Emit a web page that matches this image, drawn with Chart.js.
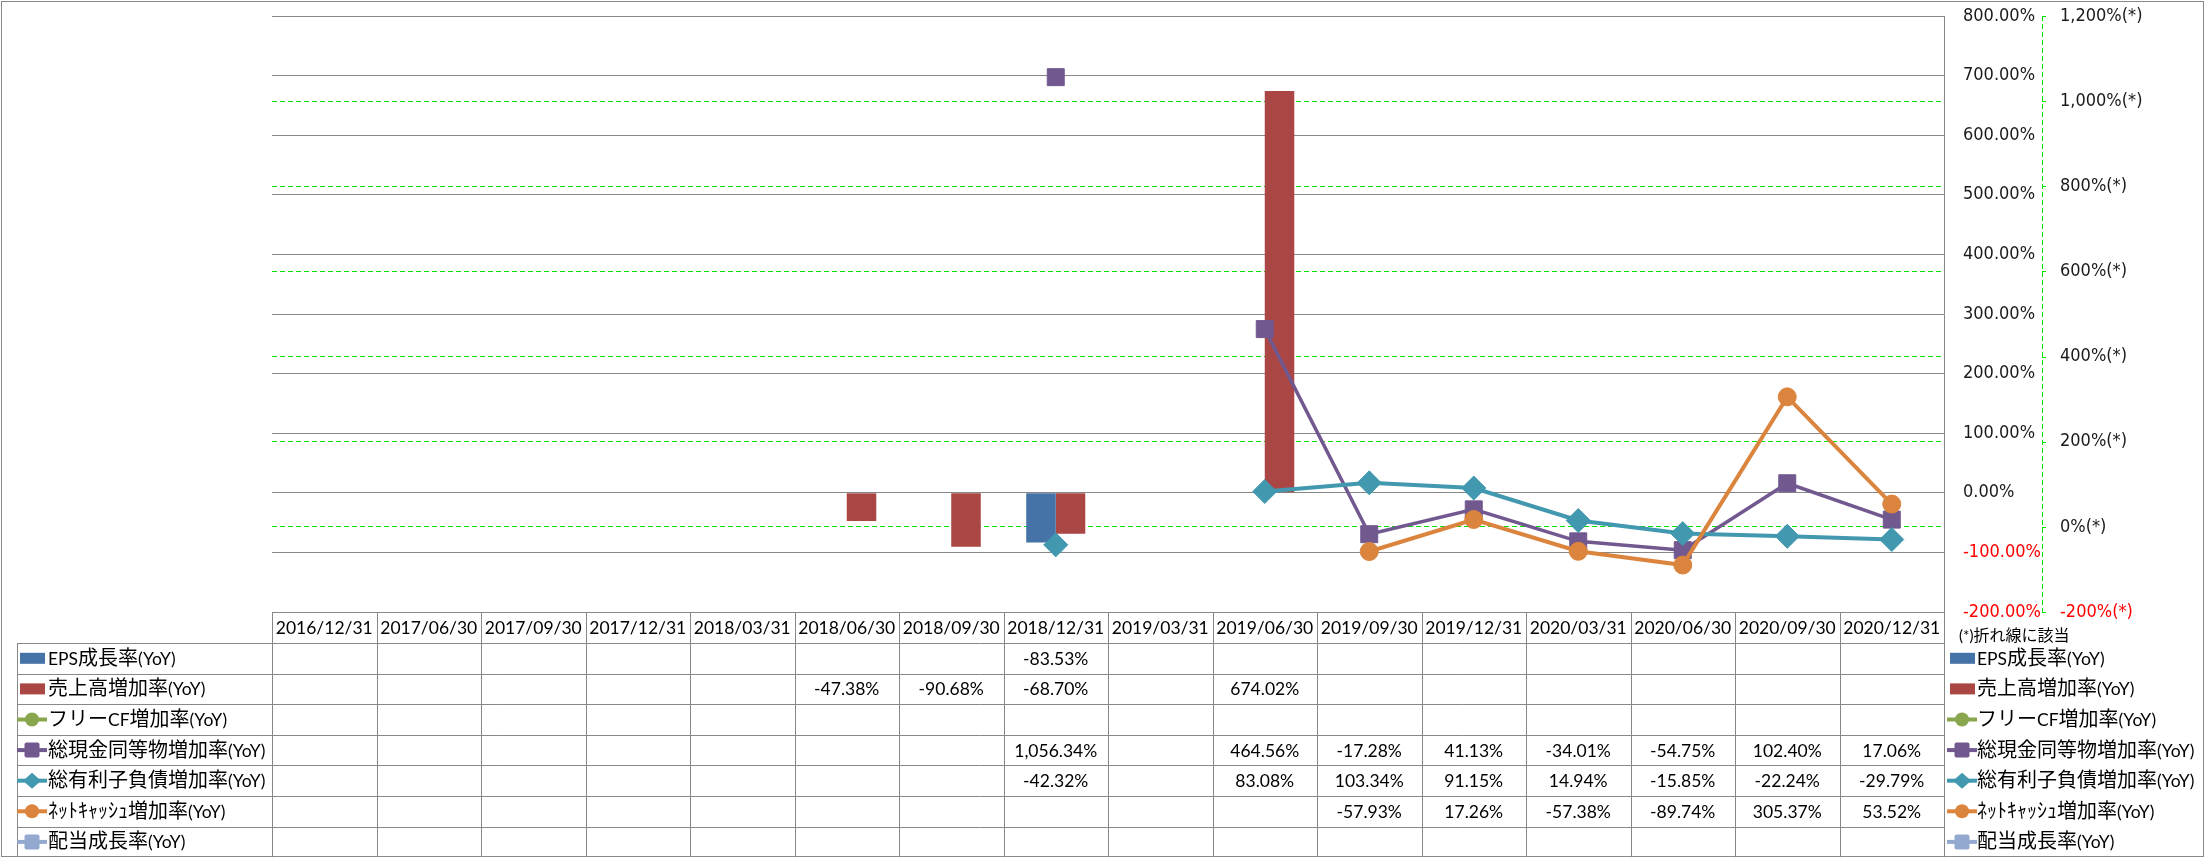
<!DOCTYPE html>
<html>
<head>
<meta charset="utf-8">
<script src="https://cdn.jsdelivr.net/npm/chart.js@4.4.0/dist/chart.umd.min.js"></script>
<style>
  body { margin: 0; background: #fff; }
  #wrap { width: 2205px; height: 858px; }
</style>
</head>
<body>
<div id="wrap"><canvas id="myChart"></canvas></div>
<script>
let categories = ['2016/12/31', '2017/06/30', '2017/09/30', '2017/12/31', '2018/03/31', '2018/06/30', '2018/09/30', '2018/12/31',
                  '2019/03/31', '2019/06/30', '2019/09/30', '2019/12/31', '2020/03/31', '2020/06/30', '2020/09/30', '2020/12/31'];

// bars (left axis)
let epsGrowth   = [null, null, null, null, null, null, null, -83.53, null, null, null, null, null, null, null, null];
let salesGrowth = [null, null, null, null, null, -47.38, -90.68, -68.70, null, 674.02, null, null, null, null, null, null];
// lines (right axis)
let freeCfGrowth   = [null, null, null, null, null, null, null, null, null, null, null, null, null, null, null, null];
let cashGrowth     = [null, null, null, null, null, null, null, 1056.34, null, 464.56, -17.28, 41.13, -34.01, -54.75, 102.40, 17.06];
let debtGrowth     = [null, null, null, null, null, null, null, -42.32, null, 83.08, 103.34, 91.15, 14.94, -15.85, -22.24, -29.79];
let netCashGrowth  = [null, null, null, null, null, null, null, null, null, null, -57.93, 17.26, -57.38, -89.74, 305.37, 53.52];
let dividendGrowth = [null, null, null, null, null, null, null, null, null, null, null, null, null, null, null, null];

let seriesNames = ['EPS成長率(YoY)', '売上高増加率(YoY)', 'フリーCF増加率(YoY)', '総現金同等物増加率(YoY)',
                   '総有利子負債増加率(YoY)', 'ﾈｯﾄｷｬｯｼｭ増加率(YoY)', '配当成長率(YoY)'];
let seriesData = [epsGrowth, salesGrowth, freeCfGrowth, cashGrowth, debtGrowth, netCashGrowth, dividendGrowth];
let colorHex = ['#4572A7', '#AA4643', '#89A54E', '#71588F', '#4198AF', '#DB843D', '#93A9CF'];
let markers = [null, null, 'circle', 'rect', 'rectRot', 'circle', 'rect'];

let leftMin = -200, leftMax = 800, leftStep = 100;
let rightMin = -200, rightMax = 1200, rightStep = 200;
let footNote = '(*)折れ線に該当';

let axisFont = {family: '"DejaVu Sans Condensed", "DejaVu Sans"', size: 18};

function fmtPct(v) {
  return v.toLocaleString('en-US', {minimumFractionDigits: 2, maximumFractionDigits: 2}) + '%';
}

// draw text mixing a latin font and a CJK font
function drawMixed(ctx, text, x, y, align, latinSize, cjkSize) {
  let runs = [];
  for (const ch of text) {
    let cjk = ch.charCodeAt(0) > 0x2000;
    if (runs.length && runs[runs.length - 1].cjk === cjk) runs[runs.length - 1].t += ch;
    else runs.push({t: ch, cjk: cjk});
  }
  let total = 0;
  runs.forEach(r => {
    ctx.font = r.cjk ? cjkSize + 'px "Noto Sans CJK JP"' : latinSize + 'px Lato';
    r.w = ctx.measureText(r.t).width;
    total += r.w;
  });
  let cx = align === 'center' ? x - total / 2 : x;
  ctx.textAlign = 'left';
  ctx.textBaseline = 'alphabetic';
  ctx.fillStyle = '#000';
  runs.forEach(r => {
    ctx.font = r.cjk ? cjkSize + 'px "Noto Sans CJK JP"' : latinSize + 'px Lato';
    ctx.fillText(r.t, cx, y + 6.5);
    cx += r.w;
  });
}

function drawIcon(ctx, i, x, y) {
  let c = colorHex[i];
  ctx.save();
  ctx.fillStyle = c;
  ctx.strokeStyle = c;
  if (!markers[i]) {
    ctx.fillRect(x + 3, y - 5.5, 25, 11);
    ctx.restore();
    return;
  }
  ctx.lineWidth = 4;
  ctx.beginPath();
  ctx.moveTo(x, y);
  ctx.lineTo(x + 30, y);
  ctx.stroke();
  let mx = x + 15;
  ctx.beginPath();
  if (markers[i] === 'circle') {
    ctx.arc(mx, y, 7, 0, Math.PI * 2);
  } else if (markers[i] === 'rect') {
    ctx.roundRect(mx - 7.5, y - 7.5, 15, 15, 2);
  } else {
    ctx.moveTo(mx - 9, y); ctx.lineTo(mx, y - 8); ctx.lineTo(mx + 9, y); ctx.lineTo(mx, y + 8);
    ctx.closePath();
  }
  ctx.fill();
  ctx.restore();
}

const tablePlugin = {
  id: 'dataTable',
  afterDraw(chart) {
    const ctx = chart.ctx;
    const xs = chart.scales.x;
    const y1 = chart.scales.y1;
    const area = chart.chartArea;
    const half = (xs.getPixelForValue(1) - xs.getPixelForValue(0)) / 2;
    const headTop = 612, headBottom = 643, rowH = 30.6, labelLeft = 17;
    const nRows = seriesNames.length;
    const tableBottom = headBottom + rowH * nRows;

    ctx.save();
    // dashed right axis line with short tick marks
    ctx.strokeStyle = '#00e000';
    ctx.lineWidth = 1;
    ctx.setLineDash([5, 3]);
    ctx.beginPath();
    ctx.moveTo(y1.left + 0.5, area.top);
    ctx.lineTo(y1.left + 0.5, area.bottom);
    ctx.stroke();
    ctx.setLineDash([]);
    ctx.beginPath();
    y1.ticks.forEach(t => {
      let ty = Math.round(y1.getPixelForValue(t.value)) + 0.5;
      ctx.moveTo(y1.left, ty);
      ctx.lineTo(y1.left + 4, ty);
    });
    ctx.stroke();

    // table grid
    ctx.strokeStyle = '#888';
    ctx.lineWidth = 1;
    ctx.beginPath();
    ctx.moveTo(area.left, headTop + 0.5);
    ctx.lineTo(area.right, headTop + 0.5);
    for (let r = 0; r < nRows; r++) {
      let yy = Math.round(headBottom + r * rowH) + 0.5;
      ctx.moveTo(labelLeft, yy);
      ctx.lineTo(area.right, yy);
    }
    for (let i = 0; i <= categories.length; i++) {
      let xx = Math.round(area.left + i * half * 2) + 0.5;
      ctx.moveTo(xx, headTop);
      ctx.lineTo(xx, tableBottom);
    }
    ctx.moveTo(labelLeft + 0.5, headBottom);
    ctx.lineTo(labelLeft + 0.5, tableBottom);
    ctx.stroke();

    // header
    categories.forEach((c, i) => {
      drawMixed(ctx, c, xs.getPixelForValue(i), (headTop + headBottom) / 2, 'center', 17.5, 19);
    });
    // rows
    seriesNames.forEach((name, r) => {
      let cy = headBottom + r * rowH + rowH / 2;
      drawIcon(ctx, r, labelLeft, cy);
      drawMixed(ctx, name, 48, cy, 'left', 17.5, 20);
      seriesData[r].forEach((v, i) => {
        if (v !== null) drawMixed(ctx, fmtPct(v), xs.getPixelForValue(i), cy, 'center', 17.5, 19);
      });
      // right legend
      drawIcon(ctx, r, 1947, cy);
      drawMixed(ctx, name, 1977, cy, 'left', 17.5, 20);
    });
    drawMixed(ctx, footNote, 1959, 634, 'left', 15, 16);

    // outer frame
    ctx.strokeStyle = '#888';
    ctx.strokeRect(1.5, 1.5, 2202, 855);
    ctx.restore();
  }
};

let tickColor = (c) => c.tick.value < 0 ? '#ff0000' : '#1a1a1a';
let rightGridColor = (c) => (c.tick && (c.tick.value === rightMax || c.tick.value === rightMin)) ? 'rgba(0,0,0,0)' : '#00e000';

let ctx1 = document.getElementById('myChart').getContext('2d');
let myChart = new Chart(ctx1, {
  type: 'bar',
  data: {
    labels: categories,
    datasets: [
      {type: 'bar', label: seriesNames[0], data: epsGrowth, backgroundColor: colorHex[0], yAxisID: 'y', order: 10},
      {type: 'bar', label: seriesNames[1], data: salesGrowth, backgroundColor: colorHex[1], yAxisID: 'y', order: 10},
      {type: 'line', label: seriesNames[2], data: freeCfGrowth, borderColor: colorHex[2], backgroundColor: colorHex[2],
       pointStyle: 'circle', pointRadius: 9, borderWidth: 4, yAxisID: 'y1', order: 5},
      {type: 'line', label: seriesNames[3], data: cashGrowth, borderColor: colorHex[3], backgroundColor: colorHex[3],
       pointStyle: 'rect', pointRadius: 12, pointBorderWidth: 1, borderWidth: 3.5, yAxisID: 'y1', order: 4},
      {type: 'line', label: seriesNames[4], data: debtGrowth, borderColor: colorHex[4], backgroundColor: colorHex[4],
       pointStyle: 'rectRot', pointRadius: 12, pointBorderWidth: 1, borderWidth: 4, yAxisID: 'y1', order: 3},
      {type: 'line', label: seriesNames[5], data: netCashGrowth, borderColor: colorHex[5], backgroundColor: colorHex[5],
       pointStyle: 'circle', pointRadius: 9, pointBorderWidth: 1, borderWidth: 4, yAxisID: 'y1', order: 2},
      {type: 'line', label: seriesNames[6], data: dividendGrowth, borderColor: colorHex[6], backgroundColor: colorHex[6],
       pointStyle: 'rect', pointRadius: 12, borderWidth: 4, yAxisID: 'y1', order: 1}
    ]
  },
  options: {
    responsive: true,
    maintainAspectRatio: false,
    animation: false,
    events: [],
    layout: {padding: {left: 272, right: 13, top: 13, bottom: 246}},
    datasets: {
      bar: {categoryPercentage: 0.565, barPercentage: 1},
      line: {tension: 0, spanGaps: false}
    },
    plugins: {
      legend: {display: false},
      tooltip: {enabled: false}
    },
    scales: {
      x: {display: false, offset: true},
      y: {
        position: 'right',
        weight: 0,
        min: leftMin, max: leftMax,
        afterFit: (s) => { s.width = 98; },
        grid: {color: '#878787', lineWidth: 1, drawTicks: true, tickLength: 19, tickColor: 'rgba(0,0,0,0)'},
        border: {display: true, color: '#888', width: 1},
        ticks: {
          stepSize: leftStep, padding: 0, autoSkip: false,
          color: tickColor,
          font: axisFont,
          callback: (v) => v.toFixed(2) + '%'
        }
      },
      y1: {
        position: 'right',
        weight: 1,
        min: rightMin, max: rightMax,
        afterFit: (s) => { s.width = 150; },
        grid: {color: rightGridColor, lineWidth: 1, drawTicks: true, tickLength: 18, tickColor: 'rgba(0,0,0,0)'},
        border: {display: false, dash: [5, 3]},
        ticks: {
          stepSize: rightStep, padding: 0, autoSkip: false,
          color: tickColor,
          font: axisFont,
          callback: (v) => v.toLocaleString('en-US') + '%(*)'
        }
      }
    }
  },
  plugins: [tablePlugin]
});
</script>
</body>
</html>
